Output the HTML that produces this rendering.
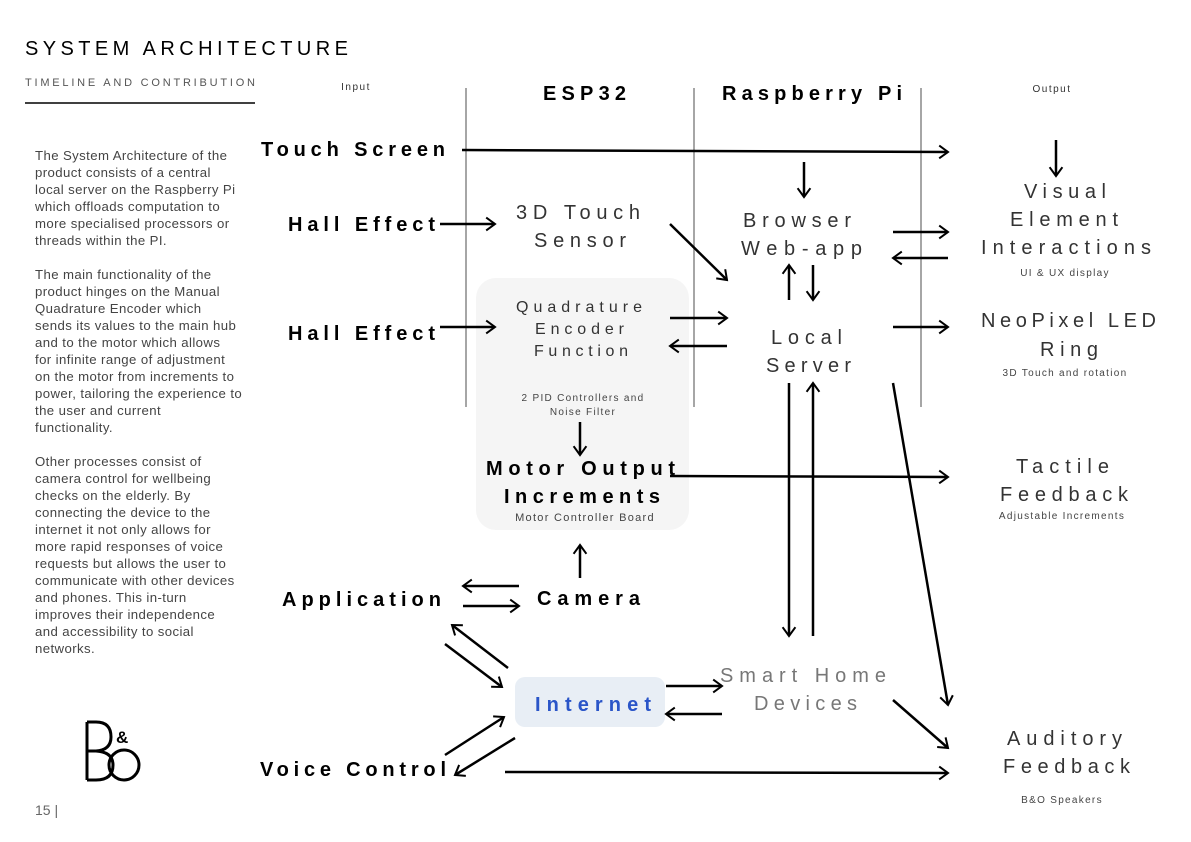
<!DOCTYPE html>
<html><head><meta charset="utf-8"><style>
html,body{margin:0;padding:0;background:#fff}
svg{display:block}
text{font-family:"Liberation Sans",sans-serif}
</style></head><body>
<svg width="1191" height="842" viewBox="0 0 1191 842" xmlns="http://www.w3.org/2000/svg">
<defs>
<marker id="a" viewBox="0 0 20 20" refX="17" refY="10" markerWidth="16" markerHeight="16" markerUnits="userSpaceOnUse" orient="auto">
<polyline points="6,2 17,10 6,18" fill="none" stroke="#000" stroke-width="2.5"/>
</marker>
</defs>
<rect x="476" y="278" width="213" height="252" rx="20" fill="#f5f5f5"/>
<rect x="515" y="677" width="150" height="50" rx="10" fill="#e8eef5"/>
<g stroke="#888" stroke-width="1.5">
<line x1="466" y1="88" x2="466" y2="407"/><line x1="694" y1="88" x2="694" y2="407"/><line x1="921" y1="88" x2="921" y2="407"/>
</g>
<line x1="25" y1="103" x2="255" y2="103" stroke="#000" stroke-width="1.5"/>
<text x="25" y="55" font-size="20" textLength="323" lengthAdjust="spacing">SYSTEM ARCHITECTURE</text>
<text x="25" y="86" font-size="11" fill="#555" textLength="230" lengthAdjust="spacing">TIMELINE AND CONTRIBUTION</text>
<g font-size="13.2" fill="#444" letter-spacing="0.4">
<text x="35" y="160">The System Architecture of the</text><text x="35" y="177">product consists of a central</text><text x="35" y="194">local server on the Raspberry Pi</text><text x="35" y="211">which offloads computation to</text><text x="35" y="228">more specialised processors or</text><text x="35" y="245">threads within the PI.</text>
<text x="35" y="279">The main functionality of the</text><text x="35" y="296">product hinges on the Manual</text><text x="35" y="313">Quadrature Encoder which</text><text x="35" y="330">sends its values to the main hub</text><text x="35" y="347">and to the motor which allows</text><text x="35" y="364">for infinite range of adjustment</text><text x="35" y="381">on the motor from increments to</text><text x="35" y="398">power, tailoring the experience to</text><text x="35" y="415">the user and current</text><text x="35" y="432">functionality.</text>
<text x="35" y="466">Other processes consist of</text><text x="35" y="483">camera control for wellbeing</text><text x="35" y="500">checks on the elderly. By</text><text x="35" y="517">connecting the device to the</text><text x="35" y="534">internet it not only allows for</text><text x="35" y="551">more rapid responses of voice</text><text x="35" y="568">requests but allows the user to</text><text x="35" y="585">communicate with other devices</text><text x="35" y="602">and phones. This in-turn</text><text x="35" y="619">improves their independence</text><text x="35" y="636">and accessibility to social</text><text x="35" y="653">networks.</text>
</g>
<text x="356" y="90" font-size="10" text-anchor="middle" letter-spacing="1.5" fill="#333">Input</text>
<text x="1052" y="92" font-size="10" text-anchor="middle" letter-spacing="1.5" fill="#333">Output</text>
<g font-size="20" font-weight="bold" lengthAdjust="spacing">
<text x="543" y="100" textLength="83">ESP32</text>
<text x="722" y="100" textLength="180">Raspberry Pi</text>
<text x="261" y="156" textLength="184">Touch Screen</text>
<text x="288" y="231" textLength="147">Hall Effect</text>
<text x="288" y="340" textLength="147">Hall Effect</text>
<text x="486" y="475" textLength="189">Motor Output</text>
<text x="504" y="503" textLength="156">Increments</text>
<text x="537" y="605" textLength="103">Camera</text>
<text x="282" y="606" textLength="159">Application</text>
<text x="260" y="776" textLength="186">Voice Control</text>
<text x="535" y="711" textLength="116" fill="#2a55c8">Internet</text>
</g>
<g font-size="20" fill="#333">
<text x="516" y="219" textLength="124">3D Touch</text><text x="534" y="247" textLength="92">Sensor</text>
<text x="743" y="227" textLength="108">Browser</text><text x="741" y="255" textLength="121">Web-app</text>
<text x="771" y="344" textLength="71">Local</text><text x="766" y="372" textLength="85">Server</text>
<text x="1024" y="198" textLength="82">Visual</text><text x="1010" y="226" textLength="108">Element</text><text x="981" y="254" textLength="170">Interactions</text>
<text x="981" y="327" textLength="175">NeoPixel LED</text><text x="1040" y="356" textLength="58">Ring</text>
<text x="1016" y="473" textLength="93">Tactile</text><text x="1000" y="501" textLength="128">Feedback</text>
<text x="1007" y="745" textLength="115">Auditory</text><text x="1003" y="773" textLength="127">Feedback</text>
<text x="720" y="682" textLength="166" fill="#777">Smart Home</text><text x="754" y="710" textLength="103" fill="#777">Devices</text>
</g>
<g font-size="16" fill="#333">
<text x="516" y="312" textLength="126">Quadrature</text><text x="535" y="334" textLength="89">Encoder</text><text x="534" y="356" textLength="94">Function</text>
</g>
<g font-size="10" letter-spacing="1.3" fill="#444" text-anchor="middle">
<text x="583" y="401">2 PID Controllers and</text><text x="583" y="415">Noise Filter</text>
<text x="585" y="521" font-size="11">Motor Controller Board</text>
<text x="1065" y="276">UI &amp; UX display</text>
<text x="1065" y="376">3D Touch and rotation</text>
<text x="1062" y="519">Adjustable Increments</text>
<text x="1062" y="803">B&amp;O Speakers</text>
</g>
<g stroke="#000" stroke-width="2.5" fill="none" marker-end="url(#a)">
<line x1="462" y1="150" x2="948" y2="152"/>
<line x1="440" y1="224" x2="495" y2="224"/>
<line x1="670" y1="224" x2="727" y2="280"/>
<line x1="804" y1="162" x2="804" y2="197"/>
<line x1="1056" y1="140" x2="1056" y2="176"/>
<line x1="893" y1="232" x2="948" y2="232"/>
<line x1="948" y1="258" x2="893" y2="258"/>
<line x1="789" y1="300" x2="789" y2="265"/>
<line x1="813" y1="265" x2="813" y2="300"/>
<line x1="670" y1="318" x2="727" y2="318"/>
<line x1="727" y1="346" x2="670" y2="346"/>
<line x1="440" y1="327" x2="495" y2="327"/>
<line x1="893" y1="327" x2="948" y2="327"/>
<line x1="580" y1="422" x2="580" y2="455"/>
<line x1="670" y1="476" x2="948" y2="477"/>
<line x1="580" y1="578" x2="580" y2="545"/>
<line x1="519" y1="586" x2="463" y2="586"/>
<line x1="463" y1="606" x2="519" y2="606"/>
<line x1="789" y1="383" x2="789" y2="636"/>
<line x1="813" y1="636" x2="813" y2="383"/>
<line x1="893" y1="383" x2="948" y2="705"/>
<line x1="666" y1="686" x2="722" y2="686"/>
<line x1="722" y1="714" x2="666" y2="714"/>
<line x1="508" y1="668" x2="452" y2="625"/>
<line x1="445" y1="644" x2="502" y2="687"/>
<line x1="445" y1="755" x2="504" y2="717"/>
<line x1="515" y1="738" x2="455" y2="775"/>
<line x1="893" y1="700" x2="948" y2="748"/>
<line x1="505" y1="772" x2="948" y2="773"/>
</g>
<g stroke="#000" stroke-width="3" fill="none">
<path d="M87 722 V780 M87 722 H96 Q111 722 111 737 Q111 750 96 751 H87 M96 751 Q113 752 113 765 Q113 780 96 780 H87"/>
<circle cx="124" cy="765" r="15"/>
</g>
<text x="116" y="743" font-size="17" font-weight="bold">&amp;</text>
<text x="35" y="815" font-size="14" fill="#666">15 |</text>
</svg>
</body></html>
